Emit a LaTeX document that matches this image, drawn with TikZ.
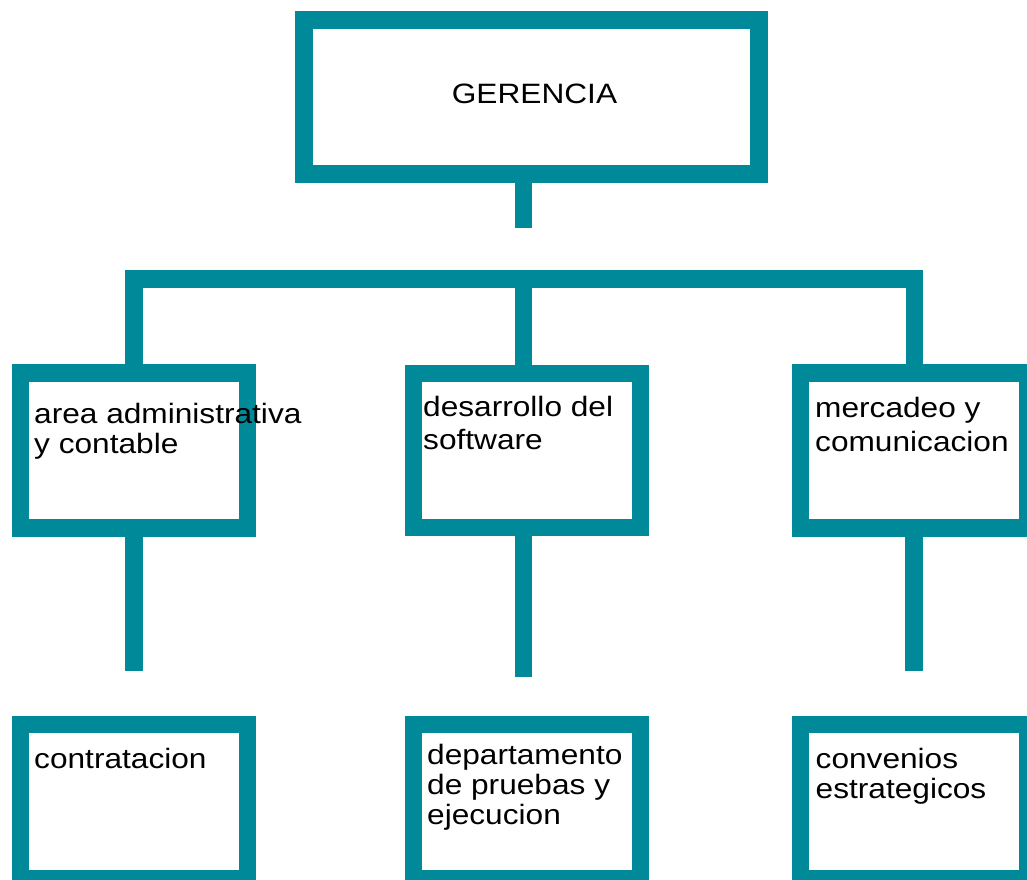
\documentclass[tikz,border=0pt]{standalone}
\usepackage{fontspec}
\setmainfont{Liberation Sans}[FakeStretch=1.13]
\definecolor{teal1}{HTML}{008A99}
\begin{document}
\begin{tikzpicture}[x=1pt,y=-1pt,
  box/.style={draw=teal1,line width=17.5pt,minimum width=227pt,minimum height=155pt,inner sep=0pt,fill=none},
  conn/.style={draw=teal1,line width=17.5pt,line cap=butt,line join=miter},
  lbl/.style={anchor=base west,inner sep=0pt,align=left,text=black,font=\fontsize{28}{30}\selectfont},
]
\useasboundingbox (0,0) rectangle (1027,879);
% boxes
\node[box,minimum width=455pt,minimum height=154pt] (ger) at (531.5,97) {};
\node[box] (b1) at (134,450.5) {};
\node[box,minimum height=154pt] (b2) at (527,450.5) {};
\node[box] (b3) at (914,450.5) {};
\node[box,minimum height=154pt] (c1) at (134,801.5) {};
\node[box,minimum height=154pt] (c2) at (527,801.5) {};
\node[box,minimum height=154pt] (c3) at (914,801.5) {};
% coordinates
\coordinate (gs) at (523.5,228);
\coordinate (barl) at (134,279);
\coordinate (barm) at (523.5,279);
\coordinate (barr) at (914.5,279);
\coordinate (s1) at (134,671);
\coordinate (s2) at (523.5,677);
\coordinate (s3) at (914,671);
% connectors
\draw[conn] (ger.south -| gs) -- (gs);
\draw[conn] (b1.north) -- (barl) -- (barr) -- (b3.north -| barr);
\draw[conn] (barm) -- (b2.north -| barm);
\draw[conn] (b1.south) -- (s1);
\draw[conn] (b2.south -| s2) -- (s2);
\draw[conn] (b3.south) -- (s3);
% texts (anchor at baseline of last line)
\node[lbl,anchor=base] (tger) at (534.5,103.3) {GERENCIA};
\node[lbl] (t1) at (34,453) {area administrativa\\y contable};
\node[lbl,font=\fontsize{28}{33}\selectfont] (t2) at (423,449) {desarrollo del\\software};
\node[lbl,font=\fontsize{28}{34}\selectfont] (t3) at (815,451) {mercadeo y\\comunicacion};
\node[lbl] (u1) at (34,768) {contratacion};
\node[lbl] (u2) at (427,824) {departamento\\de pruebas y\\ejecucion};
\node[lbl,font=\fontsize{28}{30.7}\selectfont] (u3) at (815.5,798.7) {convenios\\estrategicos};
\end{tikzpicture}
\end{document}
